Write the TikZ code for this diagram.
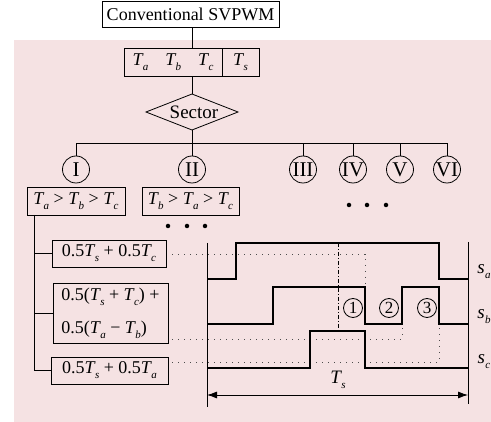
\documentclass[tikz,border=0pt]{standalone}
\usepackage{fontspec}
\setmainfont{Liberation Serif}
\usetikzlibrary{arrows.meta}
\definecolor{bgpink}{RGB}{245,226,227}
\newcommand{\Tsub}[1]{\textit{T}\kern-0.04em\raisebox{-5pt}{\fontsize{11}{11}\selectfont\textit{#1}}}
\newcommand{\ssub}[1]{\textit{s}\kern0.02em\raisebox{-5pt}{\fontsize{11}{11}\selectfont\textit{#1}}}
\begin{document}
\begin{tikzpicture}[x=1pt,y=-1pt, font=\fontsize{18}{20}\selectfont,
 box/.style={draw, line width=0.8pt, inner sep=0pt},
 rnum/.style={draw, circle, line width=0.8pt, minimum size=27pt, inner sep=0pt, font=\fontsize{21}{21}\selectfont},
 cnum/.style={draw, circle, line width=0.8pt, minimum size=19pt, inner sep=0pt, font=\fontsize{17}{17}\selectfont},
 wire/.style={line width=0.8pt},
 wave/.style={line width=2.2pt, line join=miter},
 guide/.style={line width=0.8pt, dash pattern=on 1.2pt off 4.8pt, black!70},
 dashdot/.style={line width=0.8pt, dash pattern=on 4pt off 2pt on 1pt off 2pt},
 bigdot/.style={circle, fill, inner sep=0pt, minimum size=4.5pt}]
\useasboundingbox (0,0) rectangle (491,422);
\fill[bgpink] (14,40) rectangle (491,422);

% title and times box
\node[box, minimum width=177pt, minimum height=26pt] (title) at (190.5,14) {Conventional SVPWM};
\node[box, minimum width=98pt, minimum height=28pt] (tabc) at (173,62) {\Tsub{a}\hspace{17pt}\Tsub{b}\hspace{17pt}\Tsub{c}};
\node[box, minimum width=37pt, minimum height=28pt] (ts) at (240.5,62) {\Tsub{s}};
\coordinate (dtop) at (192,94);
\coordinate (dbot) at (192,130);
\coordinate (dleft) at (146,112);
\coordinate (dright) at (238,112);
\draw[wire] (dleft) -- (dtop) -- (dright) -- (dbot) -- cycle;
\node[font=\fontsize{19}{20}\selectfont] (sector) at (194,112) {Sector};
\draw[wire] (title.south -| dtop) -- (tabc.north -| dtop);
\draw[wire] (tabc.south -| dtop) -- (dtop);

% sectors
\coordinate (bus) at (192,143);
\node[rnum] (c1) at (76,169.5) {I};
\node[rnum] (c2) at (192,169.5) {II};
\node[rnum] (c3) at (303,169.5) {III};
\node[rnum] (c4) at (353,169.5) {IV};
\node[rnum] (c5) at (400,169.5) {V};
\node[rnum] (c6) at (447,169.5) {VI};
\draw[wire] (dbot) -- (bus);
\draw[wire] (c1.north) -- (c1.north |- bus) -- (c6.north |- bus) -- (c6.north);
\foreach \c in {c2,c3,c4,c5} \draw[wire] (\c.north) -- (\c.north |- bus);

\node[box, minimum width=98pt, minimum height=28pt] (cond1) at (76,201) {\Tsub{a} > \Tsub{b} > \Tsub{c}};
\node[box, minimum width=97pt, minimum height=28pt] (cond2) at (190.5,201) {\Tsub{b} > \Tsub{a} > \Tsub{c}};
\foreach \x [count=\i] in {168,187,205} \node[bigdot] (da\i) at (\x,226) {};
\foreach \x [count=\i] in {349,367,386} \node[bigdot] (db\i) at (\x,205) {};

% formulas
\node[box, minimum width=114pt, minimum height=27pt] (f1) at (109,253.5) {0.5\Tsub{s} + 0.5\Tsub{c}};
\node[box, minimum width=115pt, minimum height=60pt, align=left, font=\fontsize{18}{33}\selectfont] (f2) at (110.5,313) {0.5(\Tsub{s} + \Tsub{c}) +\\0.5(\Tsub{a} − \Tsub{b})};
\node[box, minimum width=117pt, minimum height=27pt] (f3) at (109.5,370.5) {0.5\Tsub{s} + 0.5\Tsub{a}};
\coordinate (tr0) at (34,215);
\draw[wire] (tr0) |- (f3.west);
\draw[wire] (tr0 |- f1.west) -- (f1.west);
\draw[wire] (tr0 |- f2.west) -- (f2.west);

% waveforms
\coordinate (axl0) at (207,243);
\coordinate (axl1) at (207,407);
\coordinate (axr0) at (468,242);
\coordinate (axr1) at (468,404);
\draw[wire] (axl0) -- (axl1);
\draw[wire] (axr0) -- (axr1);
\draw[guide] (172,254) -- (365,254) -- (365,287);
\draw[guide] (172,339) -- (402,339) -- (402,324);
\draw[guide] (172,362) -- (439,362) -- (439,324);
\draw[dashdot] (338,243) -- (338,331);
\draw[wave] (207,279) -- (236,279) -- (236,243) -- (439,243) -- (439,279) -- (468,279);
\draw[wave] (207,324) -- (273,324) -- (273,287) -- (365,287) -- (365,324) -- (402,324) -- (402,287) -- (439,287) -- (439,324) -- (468,324);
\draw[wave] (207,368) -- (310,368) -- (310,331) -- (365,331) -- (365,368) -- (468,368);
\draw[wire, {Latex[length=10pt,width=7pt]}-{Latex[length=10pt,width=7pt]}] (axl1 |- 0,395) -- (axr1 |- 0,395);
\node[font=\fontsize{19}{20}\selectfont] (tslabel) at (338,380) {\Tsub{s}};
\node[font=\fontsize{19}{20}\selectfont] (sa) at (484,272) {\ssub{a}};
\node[font=\fontsize{19}{20}\selectfont] (sb) at (484,317) {\ssub{b}};
\node[font=\fontsize{19}{20}\selectfont] (sc) at (484,362) {\ssub{c}};
\node[cnum] (n1) at (353,308) {1};
\node[cnum] (n2) at (389,308) {2};
\node[cnum] (n3) at (427,308) {3};
\end{tikzpicture}
\end{document}
